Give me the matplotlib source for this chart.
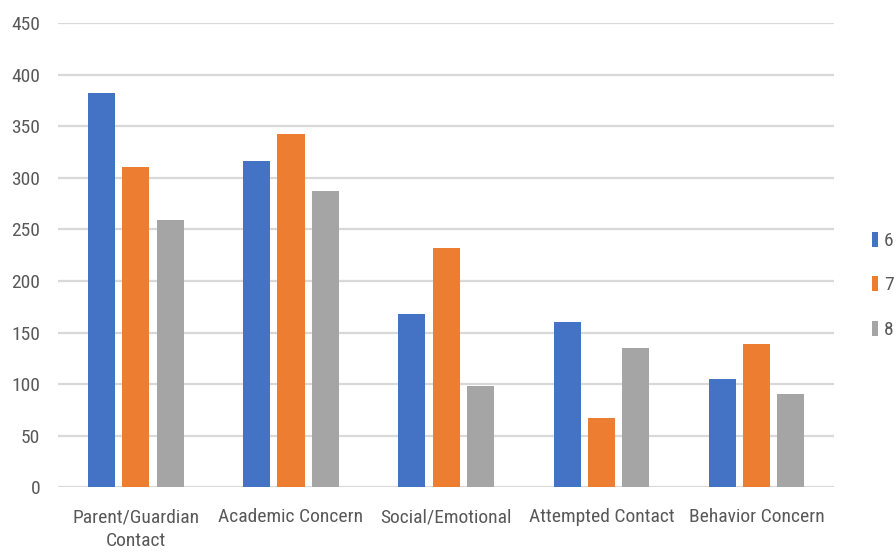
import matplotlib
matplotlib.use("Agg")
import matplotlib.pyplot as plt
from matplotlib.patches import Patch
import numpy as np

categories = ["Parent/Guardian\nContact", "Academic Concern", "Social/Emotional",
              "Attempted Contact", "Behavior Concern"]
series_names = ["6", "7", "8"]
grade6 = [382, 316, 168, 160, 105]
grade7 = [310, 342, 232, 67, 139]
grade8 = [259, 287, 98, 135, 90]
yticks = [0, 50, 100, 150, 200, 250, 300, 350, 400, 450]

colors = ["#4472C4", "#ED7D31", "#A5A5A5"]
text_color = "#595959"
grid_color = "#D9D9D9"

plt.rcParams["font.family"] = ["Liberation Sans Narrow", "Roboto Condensed", "Roboto", "DejaVu Sans"]

fig = plt.figure(figsize=(8.96, 5.53), dpi=100)
ax = fig.add_axes([0.065, 0.1188, 0.866, 0.8396])

x = np.arange(len(categories))
width = 0.175
step = 0.221
for i, (vals, c) in enumerate(zip([grade6, grade7, grade8], colors)):
    ax.bar(x + (i - 1) * step, vals, width, color=c, zorder=3)

ax.set_xlim(-0.5, len(categories) - 0.5)
ax.set_ylim(0, 450)
ax.set_yticks(yticks)
ax.set_yticklabels([str(v) for v in yticks])
ax.set_xticks(x)
ax.set_xticklabels(categories, linespacing=1.45)
ax.tick_params(axis="both", length=0, colors=text_color, labelsize=14)
ax.tick_params(axis="y", pad=13)
ax.tick_params(axis="x", pad=15)

for v in yticks:
    ax.axhline(v, color=grid_color, lw=1.6, zorder=1)
for s in ax.spines.values():
    s.set_visible(False)

handles = [Patch(facecolor=c, edgecolor="none") for c in colors]
fig.legend(handles, series_names, loc="upper left", bbox_to_anchor=(0.965, 0.595),
           frameon=False, handlelength=0.3, handleheight=0.8, handletextpad=0.3,
           labelspacing=1.35, fontsize=14, labelcolor=text_color, borderaxespad=0)

fig.savefig("out.png", dpi=100)
